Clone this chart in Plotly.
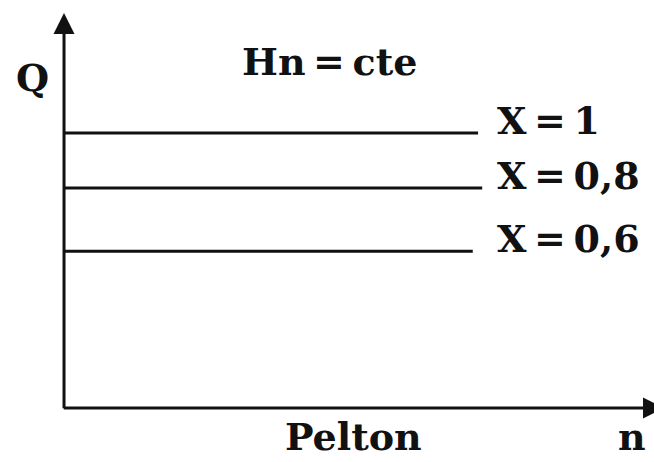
import plotly.graph_objects as go

# Pelton turbine: flow Q versus speed n at constant net head,
# one horizontal characteristic per injector opening X.
opening_labels = ["X\u2009=\u20091", "X\u2009=\u20090,8", "X\u2009=\u20090,6"]
q_values = [1.0, 0.8, 0.57]          # flow (relative to full opening)
n_end = [0.703, 0.710, 0.694]        # where each characteristic stops on the n axis

N_TIP = 1.0187       # tip of the n axis arrow
Q_TIP = 1.436        # tip of the Q axis arrow
Q_BOTTOM = -0.1964   # lowest Q shown
Q_TOP = 1.4836       # highest Q shown

INK = "#111111"
SERIF = "DejaVu Serif"


def font(size):
    return dict(family=SERIF, size=size, color=INK)


fig = go.Figure()

# characteristic lines
for q, ne in zip(q_values, n_end):
    fig.add_trace(go.Scatter(
        x=[0, ne], y=[q, q], mode="lines",
        line=dict(color=INK, width=3), showlegend=False, hoverinfo="skip"))

# opening labels to the right of each line
for q, lab in zip(q_values, opening_labels):
    fig.add_annotation(x=0.731, y=q + 0.046, text=f"<b>{lab}</b>", showarrow=False,
                       xanchor="left", yanchor="middle", font=font(38))

# axes with arrowheads
fig.add_annotation(x=0, y=Q_TIP, ax=0, ay=-0.006, xref="x", yref="y", axref="x", ayref="y",
                   text="", showarrow=True, arrowhead=2, arrowsize=1.4, arrowwidth=3,
                   arrowcolor=INK)
fig.add_annotation(x=N_TIP, y=0, ax=-0.003, ay=0, xref="x", yref="y", axref="x", ayref="y",
                   text="", showarrow=True, arrowhead=2, arrowsize=1.4, arrowwidth=3,
                   arrowcolor=INK)

# axis titles and caption
fig.add_annotation(x=-0.054, y=1.20, text="<b>Q</b>", showarrow=False, font=font(38))
fig.add_annotation(x=0.45, y=1.261, text="<b>Hn\u2009=\u2009cte</b>", showarrow=False,
                   font=font(38))
fig.add_annotation(x=0.492, y=Q_BOTTOM + 0.004, text="<b>Pelton</b>", showarrow=False,
                   yanchor="bottom", font=font(38))
fig.add_annotation(x=0.965, y=Q_BOTTOM + 0.004, text="<b>n</b>", showarrow=False,
                   yanchor="bottom", font=font(38))

fig.update_layout(
    width=654, height=462, autosize=False,
    margin=dict(l=0, r=0, t=0, b=0),
    paper_bgcolor="white", plot_bgcolor="white",
    xaxis=dict(range=[-0.1087, 1.0017], visible=False),
    yaxis=dict(range=[Q_BOTTOM, Q_TOP], visible=False),
)

fig.write_html("out.html")
